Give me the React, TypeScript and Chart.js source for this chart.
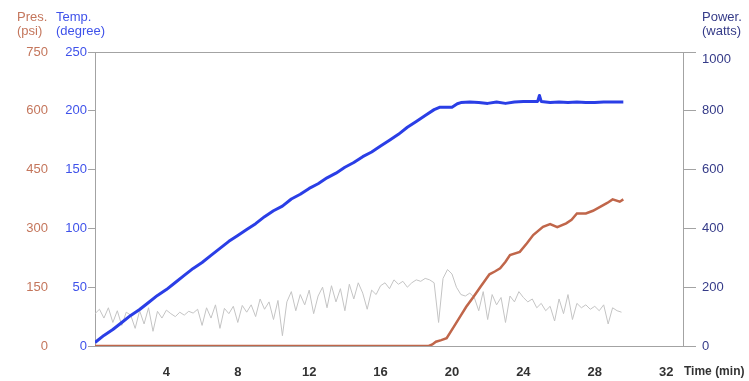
import React, { useEffect, useRef } from "react";
import { Chart, registerables } from "chart.js";

Chart.register(...registerables);

// Power trace (watts), sampled every quarter minute
const TIME_POWER = [
  0, 0.25, 0.5, 0.75, 1, 1.25, 1.5, 1.75, 2, 2.25, 2.5, 2.75, 3, 3.25, 3.5, 3.75,
  4, 4.25, 4.5, 4.75, 5, 5.25, 5.5, 5.75, 6, 6.25, 6.5, 6.75, 7, 7.25, 7.5, 7.75,
  8, 8.25, 8.5, 8.75, 9, 9.25, 9.5, 9.75, 10, 10.25, 10.5, 10.75, 11, 11.25, 11.5, 11.75,
  12, 12.25, 12.5, 12.75, 13, 13.25, 13.5, 13.75, 14, 14.25, 14.5, 14.75, 15, 15.25, 15.5, 15.75,
  16, 16.25, 16.5, 16.75, 17, 17.25, 17.5, 17.75, 18, 18.25, 18.5, 18.75, 19, 19.25, 19.5, 19.75,
  20, 20.25, 20.5, 20.75, 21, 21.25, 21.5, 21.75, 22, 22.25, 22.5, 22.75, 23, 23.25, 23.5, 23.75,
  24, 24.25, 24.5, 24.75, 25, 25.25, 25.5, 25.75, 26, 26.25, 26.5, 26.75, 27, 27.25, 27.5, 27.75,
  28, 28.25, 28.5, 28.75, 29, 29.25, 29.5,
];
const POWER_W = [
  110, 125, 95, 130, 80, 120, 70, 115, 105,
  60, 120, 75, 130, 50, 118, 95,
  122, 110, 100, 115, 105, 118, 112,
  125, 70, 130, 95, 140, 60, 128, 110, 135, 80, 138, 115,
  140, 100, 160, 125, 150, 90, 155, 35,
  150, 185, 120, 175, 140, 190, 110, 170, 200, 130,
  205, 150, 195, 120, 210, 160, 215, 180, 125,
  190, 175, 205, 215, 195, 225, 210, 220, 200, 215, 225, 220, 230, 225,
  215, 80, 230, 260, 245,
  200, 175, 170, 180, 165,
  120, 185, 90, 175, 140, 165, 80, 170, 150,
  185, 165,
  150, 160, 130, 145, 120, 135,
  85, 160, 110, 175, 90, 145,
  130, 140, 125, 135, 120, 140, 75, 130, 120, 115,
];

// Temperature (degree)
const TIME_TEMP = [
  0, 0.5, 1, 1.5, 2, 2.5, 3, 3.5, 4, 4.5, 5, 5.5, 6, 6.5, 7, 7.5, 8, 8.5, 9, 9.5,
  10, 10.5, 11, 11.5, 12, 12.5, 13, 13.5, 14, 14.5, 15, 15.5, 16, 16.5, 17, 17.5,
  18, 18.5, 19, 19.3, 20, 20.3, 20.5, 21, 21.5, 22, 22.5, 23, 23.5, 24, 24.5,
  24.8, 24.9, 25, 25.5, 26, 26.5, 27, 27.5, 28, 28.5, 29, 29.6,
];
const TEMP_DEG = [
  3, 9, 14, 20, 26, 31, 37, 43, 48, 54, 60, 66, 71, 77, 83, 89, 94, 99, 104, 110,
  115, 119, 125, 129, 134, 138, 143, 147, 152, 156, 161, 165, 170, 175, 180, 186,
  191, 196, 201, 203, 203, 206, 207, 207.5, 207, 206.3, 207.5, 206.3, 207.5, 208, 208,
  208, 213, 208, 207, 207.5, 207, 207.5, 207, 207, 207.5, 207.5, 207.5,
];

// Pressure (psi)
const TIME_PRES = [
  0, 18.7, 18.9, 19.1, 19.4, 19.7, 20.1, 20.5, 20.8, 21.2, 21.6, 22.1, 22.4, 22.7,
  23.0, 23.25, 23.8, 24.2, 24.55, 25.1, 25.5, 25.9, 26.4, 26.7, 27.0, 27.5, 27.9,
  28.3, 28.7, 29.0, 29.4, 29.6,
];
const PRES_PSI = [
  0, 0, 4, 11, 15, 20, 49, 78, 100, 125, 151, 183, 190, 198,
  215, 232, 240, 262, 283, 304, 311, 303, 313, 322, 338, 338, 345,
  355, 365, 374, 368, 374,
];

// Axis ticks
const TIME_TICKS = [4, 8, 12, 16, 20, 24, 28, 32];
const TEMP_TICKS = [0, 50, 100, 150, 200, 250];
const PRES_TICKS = [0, 150, 300, 450, 600, 750];
const POWER_TICKS = [0, 200, 400, 600, 800, 1000];

const PRES_COLOR = "#c4765c";
const TEMP_COLOR = "#3f52ea";
const POWER_COLOR = "#353b88";
const FONT = "'Liberation Sans', Arial, sans-serif";

const pairs = (xs: number[], ys: number[]) => xs.map((x, i) => ({ x, y: ys[i] }));

const frameAndTitles = {
  id: "frameAndTitles",
  beforeDatasetsDraw(chart: any) {
    const { ctx, chartArea } = chart;
    ctx.save();
    ctx.strokeStyle = "#a3a3a3";
    ctx.lineWidth = 1;
    ctx.strokeRect(
      Math.round(chartArea.left) + 0.5,
      Math.round(chartArea.top) + 0.5,
      Math.round(chartArea.right - chartArea.left) - 1,
      Math.round(chartArea.bottom - chartArea.top)
    );
    ctx.restore();
  },
  afterDraw(chart: any) {
    const { ctx, chartArea } = chart;
    ctx.save();
    ctx.font = `13px ${FONT}`;
    ctx.textBaseline = "middle";
    ctx.textAlign = "left";
    const titles: [string, string, number, string][] = [
      ["Pres.", "(psi)", 17, PRES_COLOR],
      ["Temp.", "(degree)", 56, TEMP_COLOR],
      ["Power.", "(watts)", chartArea.right + 18, POWER_COLOR],
    ];
    for (const [a, b, x, c] of titles) {
      ctx.fillStyle = c;
      ctx.fillText(a, x, 17);
      ctx.fillText(b, x, 31);
    }
    ctx.fillStyle = "#333";
    ctx.font = `bold 12px ${FONT}`;
    ctx.fillText("Time (min)", chartArea.right, 372);
    ctx.restore();
  },
};

export default function App() {
  const ref = useRef<HTMLCanvasElement | null>(null);

  useEffect(() => {
    if (!ref.current) return;
    const setTicks = (vals: number[]) => (scale: any) => {
      scale.ticks = vals.map((v) => ({ value: v }));
    };
    const chart = new Chart(ref.current, {
      type: "line",
      data: {
        datasets: [
          {
            label: "Temp",
            data: pairs(TIME_TEMP, TEMP_DEG),
            yAxisID: "yTemp",
            borderColor: "#2a3ee6",
            borderWidth: 3,
            borderJoinStyle: "round",
            order: 1,
          },
          {
            label: "Pres",
            data: pairs(TIME_PRES, PRES_PSI),
            yAxisID: "yPres",
            borderColor: "#c0664a",
            borderWidth: 2.5,
            order: 2,
          },
          {
            label: "Power",
            data: pairs(TIME_POWER, POWER_W),
            yAxisID: "yPow",
            borderColor: "#c4c4c4",
            borderWidth: 1,
            order: 3,
          },
        ],
      },
      options: {
        animation: false,
        responsive: false,
        devicePixelRatio: 1,
        layout: { padding: { top: 52, left: 0, right: 0, bottom: 0 } },
        elements: { point: { radius: 0 }, line: { tension: 0 } },
        plugins: { legend: { display: false }, tooltip: { enabled: false } },
        scales: {
          x: {
            type: "linear",
            position: "bottom",
            min: 0,
            max: 33,
            afterBuildTicks: setTicks(TIME_TICKS),
            afterFit: (s: any) => {
              s.height = 35;
            },
            grid: { display: false, drawTicks: false },
            border: { display: false },
            ticks: {
              padding: 19,
              color: "#333",
              font: { family: FONT, size: 13, weight: "bold" },
              maxRotation: 0,
              autoSkip: false,
            },
          },
          yPres: {
            type: "linear",
            position: "left",
            weight: 2,
            min: 0,
            max: 750,
            afterBuildTicks: setTicks(PRES_TICKS),
            afterFit: (s: any) => {
              s.width = 55;
            },
            grid: { display: false, drawTicks: false },
            border: { display: false },
            ticks: { padding: 7, color: PRES_COLOR, font: { family: FONT, size: 13 } },
          },
          yTemp: {
            type: "linear",
            position: "left",
            weight: 1,
            min: 0,
            max: 250,
            afterBuildTicks: setTicks(TEMP_TICKS),
            afterFit: (s: any) => {
              s.width = 40;
            },
            grid: { drawOnChartArea: false, drawTicks: true, tickLength: 7, color: "#a3a3a3" },
            border: { display: false },
            ticks: { padding: 1, color: TEMP_COLOR, font: { family: FONT, size: 13 } },
          },
          yPow: {
            type: "linear",
            position: "right",
            min: 0,
            max: 1000,
            afterBuildTicks: setTicks(POWER_TICKS),
            afterFit: (s: any) => {
              s.width = 65;
            },
            grid: { drawOnChartArea: false, drawTicks: true, tickLength: 12, color: "#a3a3a3" },
            border: { display: false },
            ticks: {
              padding: 6,
              color: POWER_COLOR,
              font: { family: FONT, size: 13 },
              callback: (v: any) => (v === 1000 ? ["", String(v)] : String(v)),
            },
          },
        },
      },
      plugins: [frameAndTitles],
    });
    return () => chart.destroy();
  }, []);

  return (
    <div style={{ position: "fixed", left: 0, top: 0, width: 749, height: 381, background: "#fff" }}>
      <canvas ref={ref} width={749} height={381} />
    </div>
  );
}
